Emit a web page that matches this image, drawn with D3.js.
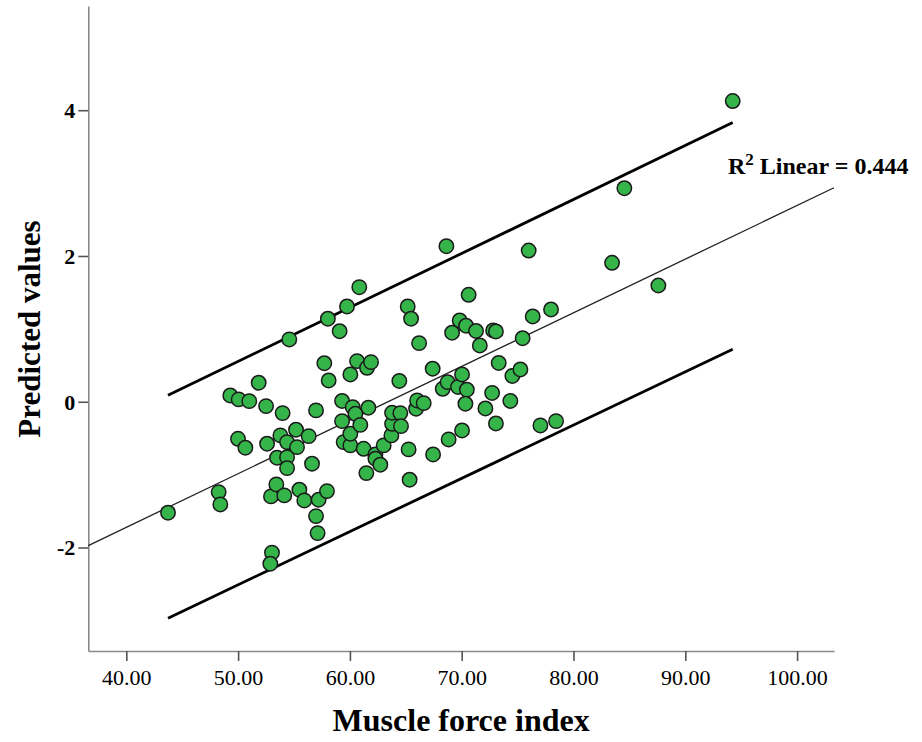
<!DOCTYPE html>
<html>
<head>
<meta charset="utf-8">
<script src="https://cdn.jsdelivr.net/npm/d3@7"></script>
<style>
  html, body { margin: 0; padding: 0; background: #fff; }
  svg { display: block; }
</style>
</head>
<body>
<svg id="chart" width="922" height="742"></svg>
<script>
// ---- data ----
const muscleForce = [
  43.73, 48.26, 48.41, 49.30, 50.05, 51.00, 49.99, 50.65, 51.84, 52.50,
  52.59, 53.03, 52.88, 52.94, 53.42, 53.48, 53.78, 53.98, 54.13, 54.38,
  54.38, 54.38, 54.58, 55.18, 55.27, 55.48, 55.92, 56.31, 56.61, 56.97,
  56.97, 57.11, 57.20, 57.95, 57.71, 58.03, 58.10, 59.08, 59.30, 59.30,
  59.44, 59.74, 60.04, 60.04, 60.25, 60.04, 60.49, 60.64, 60.84, 60.93,
  61.23, 61.47, 61.53, 61.65, 61.89, 62.28, 62.28, 62.72, 63.02, 63.71,
  63.77, 63.77, 64.51, 64.42, 64.57, 65.25, 65.34, 65.17, 65.47, 65.92,
  66.19, 66.01, 66.60, 67.40, 67.44, 68.30, 68.63, 68.83, 69.14, 68.74,
  69.67, 69.82, 70.03, 70.03, 70.39, 70.46, 70.33, 70.62, 71.28, 71.62,
  72.12, 72.72, 72.81, 73.06, 73.31, 74.35, 74.53, 75.25, 75.45, 75.99,
  76.35, 77.04, 77.99, 78.44, 83.45, 84.55, 87.59, 94.24, 73.06
];
const predicted = [
  -1.523, -1.240, -1.409, 0.086, 0.032, 0.008, -0.508, -0.631, 0.261, -0.060,
  -0.576, -2.071, -2.222, -1.299, -1.134, -0.768, -0.462, -0.156, -1.285, -0.554,
  -0.760, -0.911, 0.855, -0.384, -0.623, -1.207, -1.354, -0.472, -0.850, -0.119,
  -1.569, -1.802, -1.344, -1.226, 0.529, 1.139, 0.292, 0.968, 0.011, -0.266,
  -0.554, 1.307, -0.599, 0.374, -0.074, -0.439, -0.165, 0.557, 1.572, -0.318,
  -0.645, -0.979, 0.466, -0.082, 0.543, -0.723, -0.782, -0.864, -0.599, -0.462,
  -0.302, -0.151, -0.156, 0.285, -0.335, -0.654, -1.070, 1.307, 1.139, -0.096,
  0.804, 0.018, -0.019, 0.453, -0.723, 0.178, 2.134, -0.517, 0.947, 0.269,
  0.203, 1.115, -0.394, 0.374, 1.043, 0.165, -0.027, 1.468, 0.971, 0.772,
  -0.092, 0.121, 0.978, -0.298, 0.532, 0.011, 0.354, 0.443, 0.872, 2.075,
  1.170, -0.325, 1.266, -0.266, 1.907, 2.930, 1.595, 4.126, 0.964
];
const xTickValues = [40, 50, 60, 70, 80, 90, 100];
const yTickValues = [-2, 0, 2, 4];
const xDomain = [36.6, 103.3];
const yDomain = [-3.42, 5.43];
const fitIntercept = -4.667;
const fitSlope = 0.0736;
const rSquared = 0.444;
const intervalX = [43.73, 94.24];
const intervalUpper = [0.09, 3.83];
const intervalLower = [-2.97, 0.72];
const xTitle = "Muscle force index";
const yTitle = "Predicted values";

// ---- layout ----
const plot = { left: 88.3, right: 834, top: 6, bottom: 651 };
const serif = "'Liberation Serif', 'Times New Roman', Times, serif";

const svg = d3.select("#chart");
const x = d3.scaleLinear().domain(xDomain).range([plot.left, plot.right]);
const y = d3.scaleLinear().domain(yDomain).range([plot.bottom, plot.top]);

// axes
const xAxis = d3.axisBottom(x).tickValues(xTickValues)
  .tickFormat(d3.format(".2f")).tickSize(10).tickSizeOuter(0).tickPadding(8);
const yAxis = d3.axisLeft(y).tickValues(yTickValues)
  .tickFormat(d => String(d)).tickSize(10).tickSizeOuter(0).tickPadding(3);

const gx = svg.append("g").attr("transform", `translate(0,${plot.bottom})`).call(xAxis);
const gy = svg.append("g").attr("transform", `translate(${plot.left},0)`).call(yAxis);

[gx, gy].forEach(g => {
  g.select(".domain").attr("stroke", "#8a8a8a").attr("stroke-width", 1.6);
  g.selectAll(".tick line").attr("stroke", "#555").attr("stroke-width", 1.6);
  g.selectAll(".tick text").attr("fill", "#000").attr("font-family", serif);
});
gx.selectAll(".tick text").attr("font-size", 22).attr("font-weight", "normal");
gy.selectAll(".tick text").attr("font-size", 22).attr("font-weight", "bold").attr("dy", "0.34em");

// titles
svg.append("text")
  .attr("x", (plot.left + plot.right) / 2).attr("y", 731)
  .attr("text-anchor", "middle").attr("font-family", serif)
  .attr("font-weight", "bold").attr("font-size", 32).text(xTitle);

svg.append("text")
  .attr("transform", `translate(40,${329}) rotate(-90)`)
  .attr("text-anchor", "middle").attr("font-family", serif)
  .attr("font-weight", "bold").attr("font-size", 31).text(yTitle);

// fit line across x domain
const line = d3.line().x(d => x(d[0])).y(d => y(d[1]));
svg.append("path")
  .datum(xDomain.map(v => [v, fitIntercept + fitSlope * v]))
  .attr("d", line).attr("fill", "none").attr("stroke", "#222").attr("stroke-width", 1.3);

// prediction interval lines
[intervalUpper, intervalLower].forEach(arr => {
  svg.append("path")
    .datum(intervalX.map((v, i) => [v, arr[i]]))
    .attr("d", line).attr("fill", "none").attr("stroke", "#000").attr("stroke-width", 2.8);
});

// points
const pts = muscleForce.map((v, i) => ({ x: v, y: predicted[i] }));
svg.append("g").selectAll("circle").data(pts).join("circle")
  .attr("cx", d => x(d.x)).attr("cy", d => y(d.y)).attr("r", 7.2)
  .attr("fill", "#35b44a").attr("stroke", "#1a1a1a").attr("stroke-width", 1.5);

// R² annotation
const ann = svg.append("text")
  .attr("x", 728).attr("y", 174)
  .attr("font-family", serif).attr("font-weight", "bold").attr("font-size", 24)
  .attr("fill", "#000");
ann.append("tspan").text("R");
ann.append("tspan").attr("dy", -9).attr("font-size", 17).text("2");
ann.append("tspan").attr("dy", 9).text(` Linear = ${rSquared.toFixed(3)}`);
</script>
</body>
</html>
